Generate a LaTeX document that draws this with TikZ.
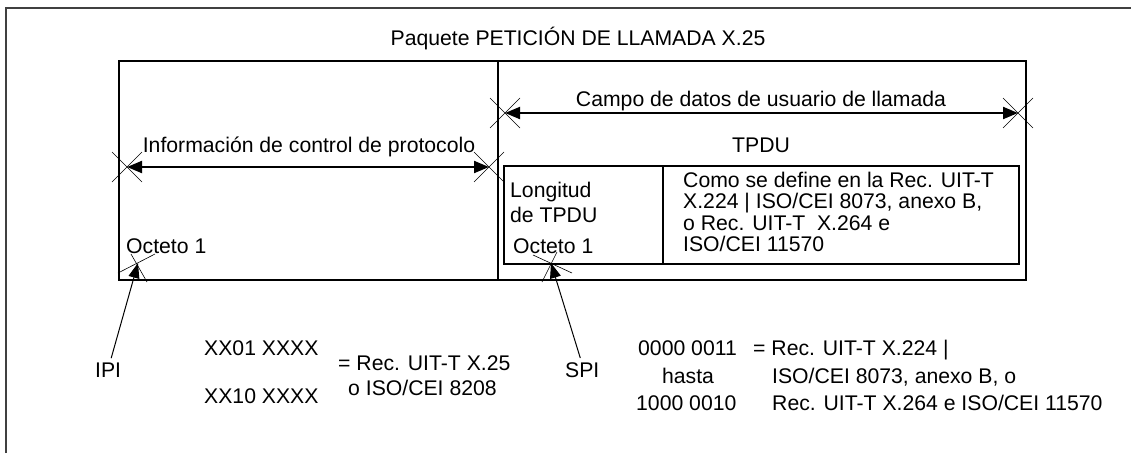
\documentclass[tikz,border=0pt]{standalone}
\usepackage{fontspec}
\setmainfont{Liberation Sans}
\usetikzlibrary{arrows.meta,calc}
\begin{document}
\begin{tikzpicture}[x=1pt,y=-1pt,
  txt/.style={font=\fontsize{21.2}{25}\selectfont, inner sep=0pt, anchor=base west},
  ctxt/.style={txt, anchor=base},
  span/.style={line width=2pt, {Triangle[length=15pt,width=12pt]}-{Triangle[length=15pt,width=12pt]}},
  pointer/.style={line width=1pt, -{Triangle[length=15pt,width=11pt]}},
  xmark/.style={line width=0.6pt},
  frame/.style={line width=1.4pt, draw=black!75}]
\useasboundingbox (0,0) rectangle (1131,453);

% outer frame (open at right and bottom)
\draw[frame] (6,453) -- (6,8) -- (1131,8);

% packet title
\node[ctxt] (title) at (578,45) {Paquete PETICIÓN DE LLAMADA X.25};

% packet box and split between PCI and user data
\draw[line width=1.3pt] (119,61) rectangle (1026,280);
\draw[line width=2pt] (498,61) -- (498,280);

% TPDU box
\draw[line width=1.2pt] (504,166) rectangle (1019,264);
\draw[line width=1.5pt] (663,166) -- (663,264);

% dimension markers
\coordinate (cL) at (505,113);
\coordinate (cR) at (1018,113);
\coordinate (iL) at (127,167);
\coordinate (iR) at (489,167);
\foreach \c in {cL,cR,iL,iR}{
  \draw[xmark] ($(\c)+(-15,-15)$) -- ($(\c)+(15,15)$)
               ($(\c)+(-15,15)$) -- ($(\c)+(15,-15)$);
}
\draw[span] (cL) -- (cR);
\draw[span] (iL) -- (iR);
\node[ctxt] (campo) at (761,106) {Campo de datos de usuario de llamada};
\node[ctxt] (info) at (309,152) {Información de control de protocolo};
\node[ctxt] (tpdu) at (761,152) {TPDU};

% contents of the TPDU
\node[txt] (long1) at (510,197) {Longitud};
\node[txt] (long2) at (510,222) {de TPDU};
\node[txt] (oct2) at (513,253) {Octeto 1};
\node[txt] (como1) at (683,187) {Como se define en la Rec. UIT-T};
\node[txt] (como2) at (683,208) {X.224 | ISO/CEI 8073, anexo B,};
\node[txt] (como3) at (683,230) {o Rec. UIT-T\ \ X.264 e};
\node[txt] (como4) at (683,251) {ISO/CEI 11570};

% first octet of the packet
\node[txt] (oct1) at (126,253) {Octeto 1};

% IPI pointer
\coordinate (ipiTip) at (138,263);
\draw[xmark] (118,273) -- (155,254) (131,254) -- (147,282);
\node[txt] (ipi) at (95,377) {IPI};
\draw[pointer] ($(ipi.north)+(3,-4)$) -- (ipiTip);

% SPI pointer
\coordinate (spiTip) at (551,263);
\draw[xmark] (533,255) -- (572,273) (542,282) -- (557,252);
\node[txt] (spi) at (565,377) {SPI};
\draw[pointer] ($(spi.north)+(-2,-4)$) -- (spiTip);

% IPI values
\node[txt] (ipiA) at (204,355) {XX01 XXXX};
\node[txt] (ipiB) at (204,403) {XX10 XXXX};
\node[txt] (ipiR1) at (338,370) {= Rec. UIT-T X.25};
\node[txt] (ipiR2) at (348,395) {o ISO/CEI 8208};

% SPI values
\node[txt] (spiA) at (638,355) {0000 0011};
\node[ctxt] (spiH) at (688,383) {hasta};
\node[txt] (spiB) at (636,410) {1000 0010};
\node[txt] (spiR1) at (753,355) {= Rec. UIT-T X.224 |};
\node[txt] (spiR2) at (772,383) {ISO/CEI 8073, anexo B, o};
\node[txt] (spiR3) at (772,410) {Rec. UIT-T X.264 e ISO/CEI 11570};
\end{tikzpicture}
\end{document}
